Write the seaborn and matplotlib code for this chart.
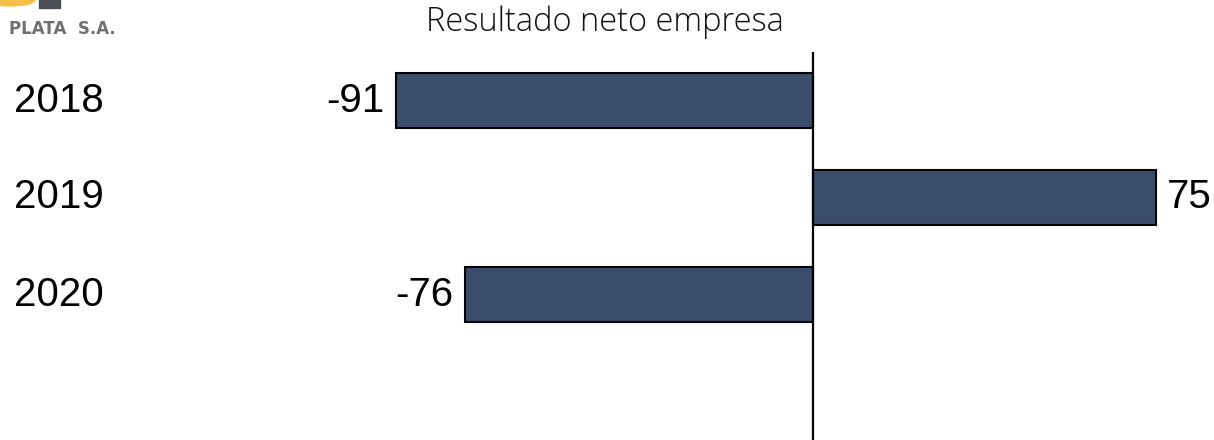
import pandas as pd
import matplotlib.pyplot as plt
import matplotlib.patches as mpatches
import seaborn as sns

years = ['2018', '2019', '2020']
resultado = [-91, 75, -76]
titulo = 'Resultado neto empresa'

sns.set_style('white')
plt.rcParams['font.family'] = ['Open Sans', 'DejaVu Sans']
plt.rcParams['text.color'] = 'black'

df = pd.DataFrame({'year': years, 'value': resultado})

fig = plt.figure(figsize=(12.14, 4.4), dpi=100)
ax = fig.add_axes([0, 0, 1, 388 / 440])

sns.barplot(data=df, x='value', y='year', orient='h', color='#3a4d6d',
            saturation=1, width=0.57, edgecolor='black', linewidth=1.5, ax=ax)

ax.set_xlim(-177.5, 87.6)
ax.set_ylim(3.5, -0.5)
ax.axvline(0, color='black', lw=1.6, zorder=5)
for s in ax.spines.values():
    s.set_visible(False)
ax.set_xticks([])
ax.set_yticks([])
ax.set_xlabel('')
ax.set_ylabel('')

lab_font = ['Liberation Sans', 'DejaVu Sans']

# year labels on the left
trans = ax.get_yaxis_transform()
for i, y in enumerate(years):
    ax.text(14 / 1214, i, y, transform=trans, ha='left', va='center',
            fontsize=29, family=lab_font, color='black')

# value labels
for i, v in enumerate(resultado):
    if v < 0:
        ax.text(v - 2.5, i, str(v), ha='right', va='center', fontsize=29,
                family=lab_font, color='black')
    else:
        ax.text(v + 2.3, i, str(v), ha='left', va='center', fontsize=29,
                family=lab_font, color='black')

fig.text(605 / 1214, 1 - 22 / 440, titulo, ha='center', va='center',
         fontsize=23.5, fontweight='light', color='#111111')

# logo fragment top-left
fig.patches.append(mpatches.Ellipse((10 / 1214, 1 - 0 / 440), 50 / 1214, 12 / 440,
                                    transform=fig.transFigure, color='#f5c04a'))
fig.patches.append(mpatches.Rectangle((39 / 1214, 1 - 8 / 440), 21 / 1214, 8 / 440,
                                      transform=fig.transFigure, color='#4a4f57'))
fig.text(9 / 1214, 1 - 29 / 440, 'PLATA  S.A.', ha='left', va='center',
         fontsize=12, fontweight='bold', color='#707070',
         family='DejaVu Sans', fontstretch='expanded')

fig.savefig('out.png', dpi=100)
